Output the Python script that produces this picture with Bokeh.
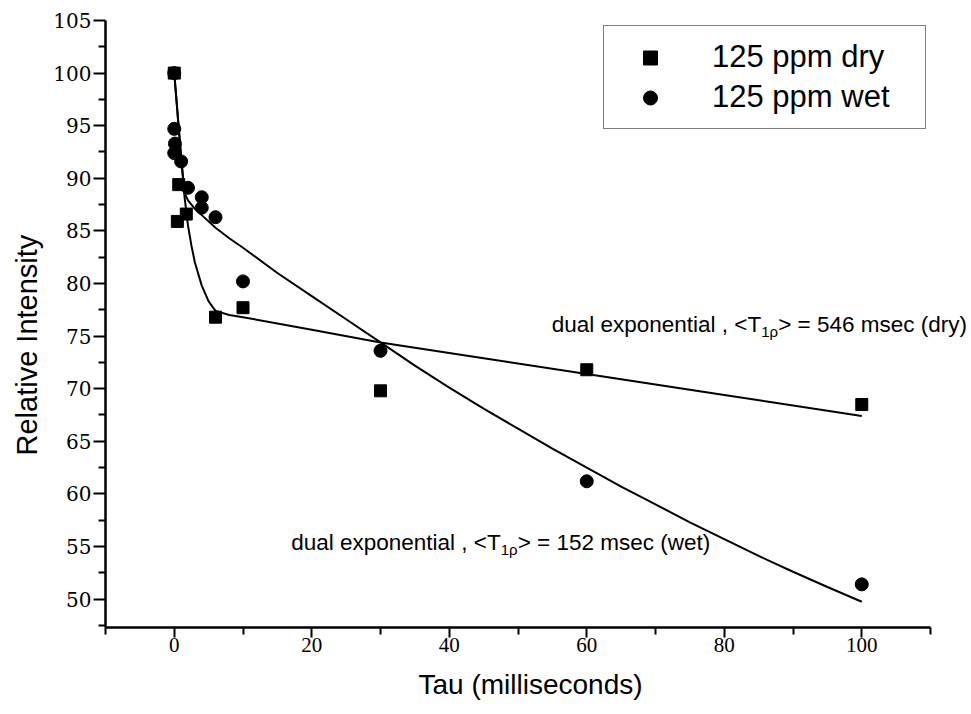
from bokeh.plotting import figure
from bokeh.models import (Range1d, FixedTicker, Legend, LegendItem, LabelSet,
                          ColumnDataSource, Title)
from bokeh.core.properties import value
from bokeh.embed import file_html
from bokeh.resources import INLINE

# ---------------- data ----------------
tau_dry = [0, 0.45, 0.65, 1.75, 6, 10, 30, 60, 100]
int_dry = [100.0, 85.9, 89.4, 86.6, 76.8, 77.7, 69.8, 71.8, 68.5]

tau_wet = [0, 0, 0.1, 0, 1, 2, 4, 4, 6, 10, 30, 60, 100]
int_wet = [100.0, 94.7, 93.3, 92.4, 91.6, 89.1, 88.2, 87.2, 86.3, 80.2, 73.6, 61.2, 51.4]

# fitted dual-exponential curves
dry_fit_tau = [0, 0.5, 1, 1.5, 2, 2.5, 3, 4, 5, 6, 8, 10, 15, 20, 30, 45, 60, 80, 100]
dry_fit_int = [100.0, 96.0, 92.0, 88.2, 85.5, 83.6, 82.0, 79.8, 78.3, 77.4, 77.0, 76.8,
               76.2, 75.6, 74.4, 72.9, 71.4, 69.4, 67.4]

wet_fit_tau = [0, 0.5, 1, 1.5, 2, 3, 4, 6, 8, 10, 15, 20, 25, 30, 35, 40, 45, 50, 55,
               60, 65, 70, 75, 80, 85, 90, 95, 100]
wet_fit_int = [100.0, 96.0, 92.0, 88.6, 87.9, 87.1, 86.5, 85.3, 84.3, 83.4, 81.0, 78.8,
               76.6, 74.4, 72.2, 70.1, 68.1, 66.2, 64.3, 62.5, 60.7, 59.0, 57.3, 55.7,
               54.1, 52.6, 51.15, 49.75]

x_ticks = [0, 20, 40, 60, 80, 100]
x_minor = [-10, 10, 30, 50, 70, 90, 110]
y_ticks = [50, 55, 60, 65, 70, 75, 80, 85, 90, 95, 100, 105]
y_minor = [47.5, 52.5, 57.5, 62.5, 67.5, 72.5, 77.5, 82.5, 87.5, 92.5, 97.5, 102.5]

series_labels = ["125 ppm dry", "125 ppm wet"]
ann_x = [54.9, 17.0]
ann_y = [75.4, 54.7]
ann_pre = ["dual exponential , <T", "dual exponential , <T"]
ann_sub = ["1\u03c1", "1\u03c1"]
ann_post = ["> = 546 msec (dry)", "> = 152 msec (wet)"]

# ---------------- figure ----------------
# the frame runs to the window edge so the right-hand annotation is not clipped;
# the x axis itself is bounded to -10..110 as in the reference
p = figure(width=971, height=714, output_backend="svg", toolbar_location=None,
           x_range=Range1d(-10, 115.96), y_range=Range1d(47.3, 105),
           min_border_left=104, min_border_right=0, min_border_top=20,
           min_border_bottom=87)
p.outline_line_color = None
p.grid.visible = False
p.background_fill_color = "white"
p.border_fill_color = "white"

p.xaxis.ticker = FixedTicker(ticks=x_ticks, minor_ticks=x_minor)
p.yaxis.ticker = FixedTicker(ticks=y_ticks, minor_ticks=y_minor)
p.xaxis.bounds = (-10, 110)

for ax in (p.xaxis[0], p.yaxis[0]):
    ax.axis_line_width = 2.5
    ax.axis_line_color = "black"
    ax.major_tick_line_width = 2
    ax.minor_tick_line_width = 2
    ax.major_tick_line_color = "black"
    ax.minor_tick_line_color = "black"
    ax.major_tick_in = 0
    ax.minor_tick_in = 0
    ax.minor_tick_out = 7
    ax.major_label_text_color = "black"

p.yaxis.major_tick_out = 12
p.yaxis.major_label_text_font = "DejaVu Serif"
p.yaxis.major_label_text_font_size = "20px"
p.yaxis.major_label_standoff = 2

p.xaxis.major_tick_out = 10
p.xaxis.major_label_text_font = "Liberation Serif"
p.xaxis.major_label_text_font_size = "21px"
p.xaxis.major_label_standoff = 0

# axis titles as side titles (allows the reference's off-centre placement)
x_title = Title(text="Tau (milliseconds)", align="left", offset=313,
                text_font="Liberation Sans", text_font_style="normal",
                text_font_size="28px", text_color="black", standoff=25)
y_title = Title(text="Relative Intensity", align="left", offset=172,
                text_font="Liberation Sans", text_font_style="normal",
                text_font_size="29px", text_color="black", standoff=16)
p.add_layout(x_title, "below")
p.add_layout(y_title, "left")

# fitted curves
p.line(dry_fit_tau, dry_fit_int, line_width=2, color="black")
p.line(wet_fit_tau, wet_fit_int, line_width=2, color="black")

# data points
r_dry = p.scatter(tau_dry, int_dry, marker="square", size=12, color="black")
r_wet = p.scatter(tau_wet, int_wet, marker="circle", size=13, color="black")

# annotations with subscript
font = value("Liberation Sans")
src_pre = ColumnDataSource(dict(x=ann_x, y=ann_y, text=ann_pre))
src_sub = ColumnDataSource(dict(x=ann_x, y=ann_y, text=ann_sub))
src_post = ColumnDataSource(dict(x=ann_x, y=ann_y, text=ann_post))
p.add_layout(LabelSet(x="x", y="y", text="text", source=src_pre, text_font=font,
                      text_font_size="22.5px", text_align="left",
                      text_baseline="alphabetic", text_color="black"))
p.add_layout(LabelSet(x="x", y="y", text="text", source=src_sub, text_font=font,
                      text_font_size="15px", text_align="left",
                      text_baseline="alphabetic", text_color="black",
                      x_offset=209.5, y_offset=-5))
p.add_layout(LabelSet(x="x", y="y", text="text", source=src_post, text_font=font,
                      text_font_size="22.5px", text_align="left",
                      text_baseline="alphabetic", text_color="black",
                      x_offset=226.5))

legend = Legend(items=[LegendItem(label=series_labels[0], renderers=[r_dry]),
                       LegendItem(label=series_labels[1], renderers=[r_wet])],
                location=(498, 498), margin=0, padding=12,
                glyph_width=68, glyph_height=35, label_standoff=28,
                label_width=201, label_height=38, spacing=2,
                border_line_color="black", border_line_width=1.5,
                background_fill_color="white", background_fill_alpha=1.0,
                label_text_font="Liberation Sans", label_text_font_size="31px",
                label_text_color="black")
p.add_layout(legend)

open("out.html", "w").write(file_html(p, INLINE))
